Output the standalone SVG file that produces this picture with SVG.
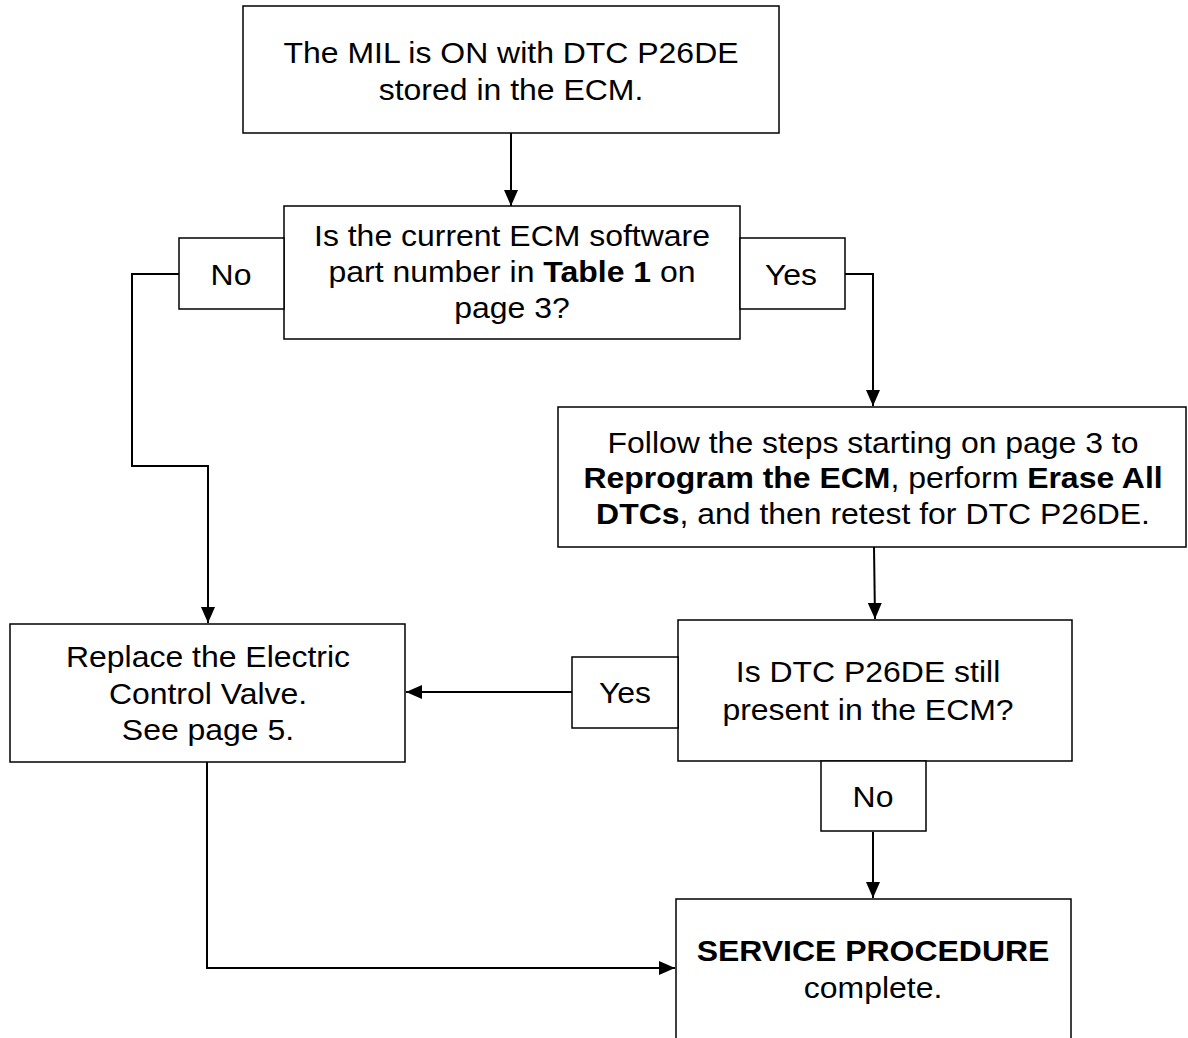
<svg xmlns="http://www.w3.org/2000/svg" width="1188" height="1038" viewBox="0 0 1188 1038">
<style>
.box{fill:#fff;stroke:#000;stroke-width:1.5}
.t{font-family:"Liberation Sans",Arial,sans-serif;font-size:30px;fill:#000;text-anchor:middle}
.b{font-weight:bold}
.c{fill:none;stroke:#000;stroke-width:2}
</style>
<defs>
<marker id="ah" viewBox="0 0 16 14" refX="16" refY="7" markerWidth="16" markerHeight="14" markerUnits="userSpaceOnUse" orient="auto">
<path d="M0,0 L16,7 L0,14 Z" fill="#000"/>
</marker>
</defs>
<rect width="1188" height="1038" fill="#fff"/>
<g id="connectors">
<path class="c" d="M511,133 V206" marker-end="url(#ah)"/>
<path class="c" d="M179,274 H132 V466 H208 V623" marker-end="url(#ah)"/>
<path class="c" d="M845,274 H873 V406" marker-end="url(#ah)"/>
<path class="c" d="M874,547 L875,619" marker-end="url(#ah)"/>
<path class="c" d="M572,692 H406" marker-end="url(#ah)"/>
<path class="c" d="M873,832 V898" marker-end="url(#ah)"/>
<path class="c" d="M207,762 V968 H675" marker-end="url(#ah)"/>
</g>
<g id="start">
<rect class="box" x="243" y="6" width="536" height="127"/>
<g transform="matrix(1.065 0 0 1 -33.2 0)">
<text class="t" x="511" y="63">The MIL is ON with DTC P26DE</text>
<text class="t" x="511" y="100">stored in the ECM.</text>
</g>
</g>
<g id="q1">
<rect class="box" x="284" y="206" width="456" height="133"/>
<g transform="matrix(1.065 0 0 1 -33.3 0)">
<text class="t" x="512" y="246">Is the current ECM software</text>
<text class="t" x="512" y="282">part number in <tspan class="b">Table 1</tspan> on</text>
<text class="t" x="512" y="318">page 3?</text>
</g>
</g>
<g id="q1-no">
<rect class="box" x="179" y="238" width="105" height="71"/>
<text class="t" x="231" y="285" transform="matrix(1.065 0 0 1 -15 0)">No</text>
</g>
<g id="q1-yes">
<rect class="box" x="740" y="238" width="105" height="71"/>
<text class="t" x="791" y="285" transform="matrix(1.065 0 0 1 -51.4 0)">Yes</text>
</g>
<g id="reprogram">
<rect class="box" x="558" y="407" width="628" height="140"/>
<g transform="matrix(1.065 0 0 1 -56.7 0)">
<text class="t" x="873" y="453">Follow the steps starting on page 3 to</text>
<text class="t" x="873" y="488"><tspan class="b">Reprogram the ECM</tspan>, perform <tspan class="b">Erase All</tspan></text>
<text class="t" x="873" y="524"><tspan class="b">DTCs</tspan>, and then retest for DTC P26DE.</text>
</g>
</g>
<g id="replace">
<rect class="box" x="10" y="624" width="395" height="138"/>
<g transform="matrix(1.065 0 0 1 -13.5 0)">
<text class="t" x="208" y="667">Replace the Electric</text>
<text class="t" x="208" y="704">Control Valve.</text>
<text class="t" x="208" y="740">See page 5.</text>
</g>
</g>
<g id="q2">
<rect class="box" x="678" y="620" width="394" height="141"/>
<g transform="matrix(1.065 0 0 1 -56.4 0)">
<text class="t" x="868" y="682">Is DTC P26DE still</text>
<text class="t" x="868" y="720">present in the ECM?</text>
</g>
</g>
<g id="q2-yes">
<rect class="box" x="572" y="657" width="106" height="71"/>
<text class="t" x="625" y="703" transform="matrix(1.065 0 0 1 -40.6 0)">Yes</text>
</g>
<g id="q2-no">
<rect class="box" x="821" y="761" width="105" height="70"/>
<text class="t" x="873" y="807" transform="matrix(1.065 0 0 1 -56.7 0)">No</text>
</g>
<g id="complete">
<rect class="box" x="676" y="899" width="395" height="160"/>
<g transform="matrix(1.065 0 0 1 -56.7 0)">
<text class="t" x="873" y="961"><tspan class="b">SERVICE PROCEDURE</tspan></text>
<text class="t" x="873" y="998">complete.</text>
</g>
</g>
</svg>
